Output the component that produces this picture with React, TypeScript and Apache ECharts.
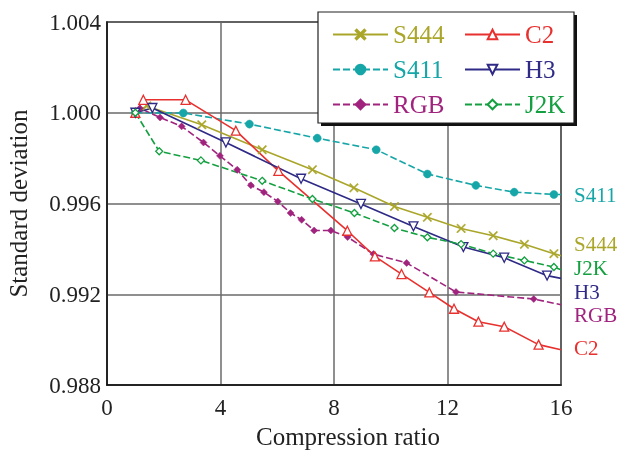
import React, { useEffect, useRef } from "react";
import * as echarts from "echarts";

const xTicks = [0, 4, 8, 12, 16];
const yTicks = [0.988, 0.992, 0.996, 1.0, 1.004];

const S444 = [[1.0, 1.0], [1.4, 1.0003], [3.34, 0.99947], [5.47, 0.99837], [7.24, 0.99749], [8.7, 0.99669], [10.13, 0.99587], [11.29, 0.99539], [12.48, 0.9949], [13.61, 0.99458], [14.71, 0.9942], [15.75, 0.99379], [16.0, 0.9937]];
const S411 = [[1.0, 1.0], [2.69, 0.99999], [5.02, 0.9995], [7.41, 0.99888], [9.49, 0.99837], [11.29, 0.9973], [13.0, 0.9968], [14.35, 0.9965], [15.75, 0.9964], [16.0, 0.9964]];
const RGB = [[1.0, 1.0], [1.16, 1.0002], [1.87, 0.99979], [2.63, 0.9994], [3.4, 0.99869], [3.98, 0.9981], [4.59, 0.99749], [5.07, 0.9968], [5.53, 0.9965], [6.02, 0.99609], [6.47, 0.99558], [6.86, 0.99528], [7.3, 0.99481], [7.89, 0.99481], [8.48, 0.99452], [9.39, 0.99377], [10.56, 0.99338], [12.3, 0.9921], [15.04, 0.99179], [16.0, 0.99154]];
const C2 = [[1.0, 1.0], [1.28, 1.00057], [2.77, 1.00057], [4.54, 0.99921], [6.04, 0.99744], [8.47, 0.9948], [9.44, 0.99367], [10.38, 0.99289], [11.36, 0.99208], [12.23, 0.99136], [13.09, 0.99079], [14.0, 0.99057], [15.21, 0.98978], [16.0, 0.98955]];
const H3 = [[1.0, 1.0], [1.6, 1.00021], [4.19, 0.99869], [6.84, 0.99709], [8.95, 0.99598], [10.8, 0.99499], [12.56, 0.99408], [14.0, 0.99361], [15.51, 0.99282], [16.0, 0.9927]];
const J2K = [[1.0, 1.0], [1.84, 0.9983], [3.31, 0.9979], [5.47, 0.997], [7.24, 0.9962], [8.72, 0.99558], [10.13, 0.99492], [11.29, 0.99451], [12.48, 0.99421], [13.61, 0.99379], [14.71, 0.99349], [15.75, 0.9932], [16.0, 0.99308]];

const COLORS: Record<string, string> = {
  S444: "#aaa62a",
  S411: "#17a6a8",
  RGB: "#a0237e",
  C2: "#e8302e",
  H3: "#2e2a86",
  J2K: "#14a040",
};

const FONT = "'Liberation Serif', 'Times New Roman', serif";
const CROSS = "path://M0,1L1,0L5,4L9,0L10,1L6,5L10,9L9,10L5,6L1,10L0,9L4,5Z";
const DOWN_TRI = "path://M0,0L10,0L5,9Z";

function mkSeries(
  name: string,
  data: number[][],
  symbol: string,
  size: number,
  filled: boolean,
  dashed: boolean,
  labelOffset: number[]
) {
  const color = COLORS[name];
  return {
    name,
    type: "line",
    data: data.map((d, i) =>
      i === data.length - 1 ? { value: d, symbol: "none" } : { value: d }
    ),
    symbol,
    symbolSize: size,
    showAllSymbol: true,
    lineStyle: { color, width: 1.6, type: dashed ? [7, 3] : "solid" },
    itemStyle: {
      color: filled ? color : "#ffffff",
      borderColor: color,
      borderWidth: filled ? 0.5 : 1.3,
    },
    emphasis: { disabled: true },
    endLabel: {
      show: true,
      formatter: name,
      color,
      fontFamily: FONT,
      fontSize: 21,
      lineHeight: 19,
      offset: labelOffset,
    },
    z: 2,
  };
}

export default function App() {
  const ref = useRef<HTMLDivElement>(null);
  useEffect(() => {
    if (!ref.current) return;
    const chart = echarts.init(ref.current, undefined, { renderer: "svg" });
    const legendText = (n: string) => ({
      name: n,
      textStyle: { color: COLORS[n] },
    });
    const legendBase = {
      orient: "vertical",
      top: 22,
      padding: 0,
      itemWidth: 55,
      itemHeight: 12,
      itemGap: 10,
      z: 20,
      selectedMode: false,
      textStyle: { fontFamily: FONT, fontSize: 25, lineHeight: 22 },
    };
    chart.setOption({
      animation: false,
      grid: {
        left: 107,
        right: 68,
        top: 22,
        bottom: 65,
        outerBoundsMode: "none",
        containLabel: false,
        show: true,
        borderColor: "#111",
        borderWidth: 1.5,
        backgroundColor: "transparent",
      },
      xAxis: {
        type: "value",
        min: xTicks[0],
        max: xTicks[xTicks.length - 1],
        interval: 4,
        name: "Compression ratio",
        nameLocation: "middle",
        nameGap: 38,
        nameTextStyle: {
          fontFamily: FONT,
          fontSize: 25,
          color: "#222",
          padding: [0, 0, 0, 28],
        },
        axisLine: { lineStyle: { color: "#111", width: 1.5 } },
        axisTick: { show: false },
        axisLabel: { fontFamily: FONT, fontSize: 23, color: "#222", margin: 11 },
        splitLine: { lineStyle: { color: "#6a6a6a", width: 1.5 } },
      },
      yAxis: {
        type: "value",
        min: yTicks[0],
        max: yTicks[yTicks.length - 1],
        interval: 0.004,
        name: "Standard deviation",
        nameLocation: "middle",
        nameGap: 76,
        nameTextStyle: { fontFamily: FONT, fontSize: 25, color: "#222" },
        axisLine: { show: true, lineStyle: { color: "#111", width: 1.5 } },
        axisTick: { show: false },
        axisLabel: {
          fontFamily: FONT,
          fontSize: 23,
          color: "#222",
          margin: 6,
          formatter: (v: number) => v.toFixed(3),
        },
        splitLine: { lineStyle: { color: "#6a6a6a", width: 1.5 } },
      },
      legend: [
        { ...legendBase, left: 332, data: ["S444", "S411", "RGB"].map(legendText) },
        { ...legendBase, left: 464, data: ["C2", "H3", "J2K"].map(legendText) },
      ],
      graphic: [
        {
          type: "rect",
          z: 10,
          shape: { x: 321, y: 15, width: 256, height: 111 },
          style: { fill: "#111" },
        },
        {
          type: "rect",
          z: 11,
          shape: { x: 318, y: 12, width: 256, height: 111 },
          style: { fill: "#fff", stroke: "#222", lineWidth: 1.2 },
        },
      ],
      series: [
        mkSeries("S444", S444, CROSS, 9, true, false, [5, -11.5]),
        mkSeries("S411", S411, "circle", 8, true, true, [5, 1]),
        mkSeries("RGB", RGB, "diamond", 7, true, true, [5, 10.5]),
        mkSeries("C2", C2, "triangle", 9, false, false, [5, -1.5]),
        mkSeries("H3", H3, DOWN_TRI, 9, false, false, [5, 13.5]),
        mkSeries("J2K", J2K, "diamond", 7, false, true, [5, -2]),
      ],
    });
    return () => chart.dispose();
  }, []);
  return (
    <div
      ref={ref}
      style={{ position: "fixed", left: 0, top: 0, width: 629, height: 450 }}
    />
  );
}
